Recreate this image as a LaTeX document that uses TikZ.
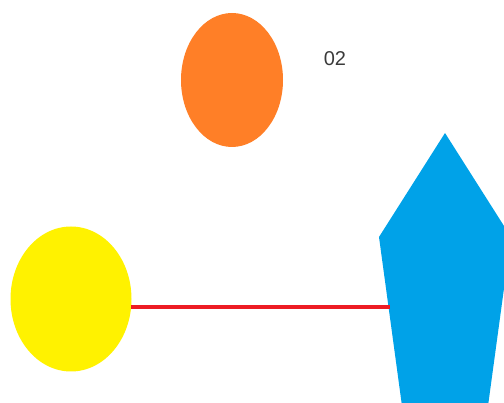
\documentclass[tikz,border=0pt]{standalone}
\usepackage{fontspec}
\setmainfont{Liberation Sans}
\usetikzlibrary{shapes.geometric}
\definecolor{PaintOrange}{HTML}{FF7F27}
\definecolor{PaintYellow}{HTML}{FFF200}
\definecolor{PaintBlue}{HTML}{00A2E8}
\definecolor{PaintRed}{HTML}{ED1C24}
\definecolor{LabelGray}{HTML}{3A3A3A}
\tikzset{
  blob/.style={ellipse, draw=none, inner sep=0pt},
  link/.style={line width=4pt, PaintRed},
  tag/.style={font=\fontsize{20}{24}\selectfont, text=LabelGray, inner sep=0pt}
}

\begin{document}
\begin{tikzpicture}[x=1pt, y=-1pt]
  \useasboundingbox (0,0) rectangle (504,403);
  \node[blob, fill=PaintOrange, minimum width=102pt, minimum height=134pt] (orange) at (232,80) {};
  \node[tag] (label) at (335,59) {02};
  \node[blob, fill=PaintYellow, minimum width=121pt, minimum height=145pt] (yellow) at (71,299) {};

  % pentagon, partly cut by the border
  \fill[PaintBlue] (445,133) -- (511,237) -- (488,406) -- (402,406) -- (379,237) -- cycle;
  \coordinate (dock) at (389.5,308);

  \draw[link] (yellow.-8) -- (yellow.-8 -| dock);
\end{tikzpicture}
\end{document}
